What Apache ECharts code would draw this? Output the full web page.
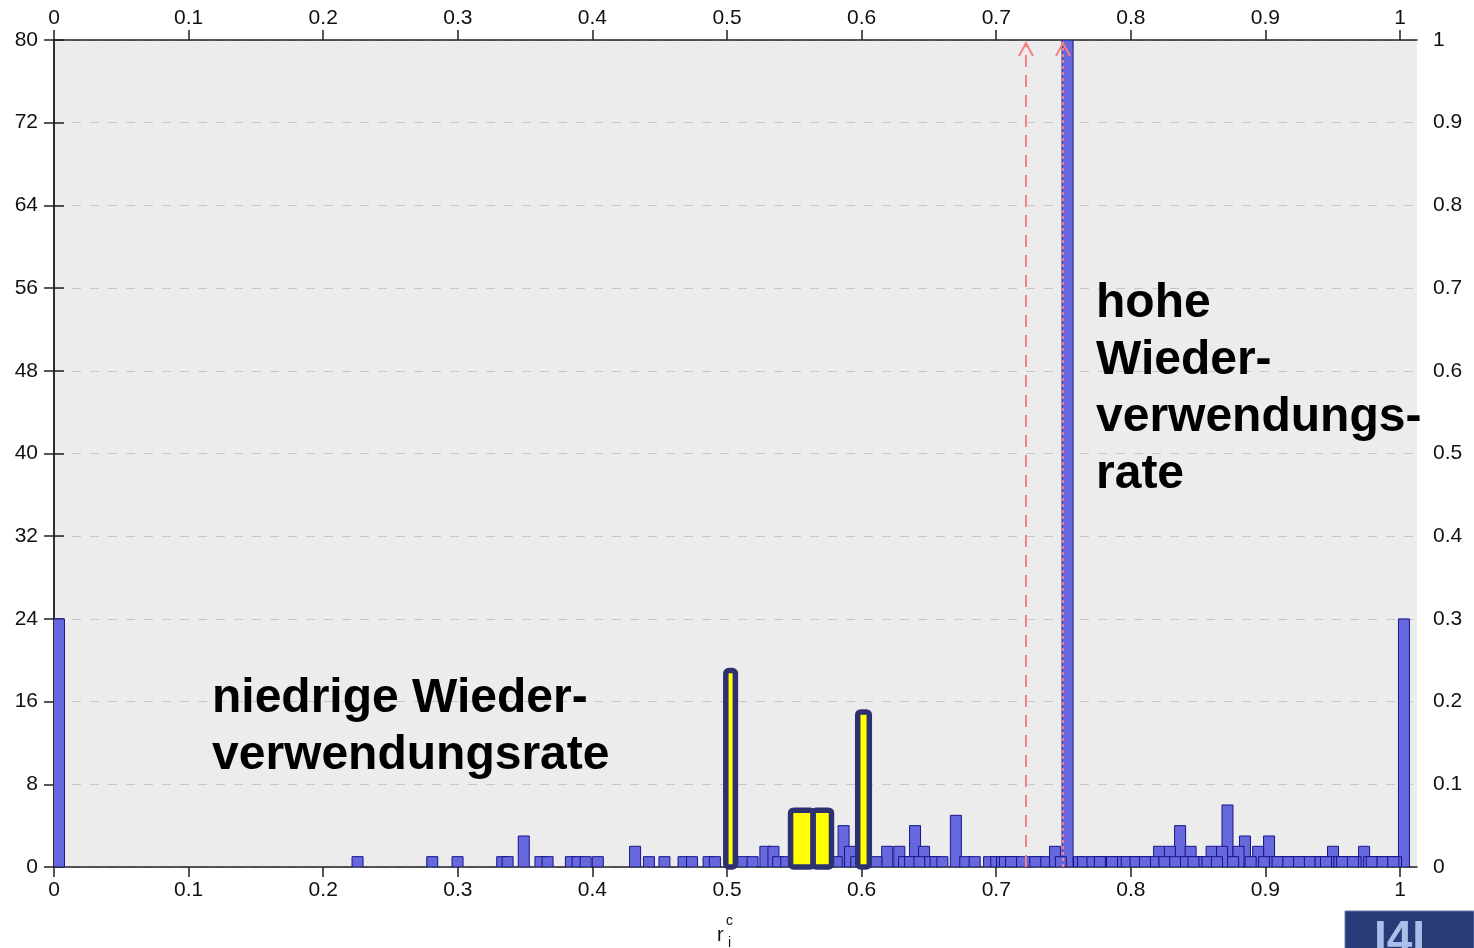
<!DOCTYPE html>
<html>
<head>
<meta charset="utf-8">
<script src="https://cdn.jsdelivr.net/npm/echarts@6/dist/echarts.min.js"></script>
<style>
  html, body { margin: 0; padding: 0; background: #fff; }
  #reuse-chart { width: 1474px; height: 948px; }
</style>
</head>
<body>
<div id="reuse-chart"></div>
<script>
// histogram bins (centre of bin, number of classes)
var barX = [
  0.0037, 0.2255, 0.281, 0.2998, 0.333, 0.337, 0.349, 0.3614, 0.3667, 0.384,
  0.389, 0.395, 0.404, 0.4317, 0.442, 0.4535, 0.4677, 0.474, 0.4863, 0.491,
  0.512, 0.519, 0.5285, 0.5345, 0.538, 0.544, 0.55, 0.556, 0.563, 0.57,
  0.576, 0.5815, 0.5866, 0.5914, 0.596, 0.611, 0.619, 0.628, 0.6315, 0.636,
  0.6397, 0.643, 0.6464, 0.651, 0.655, 0.66, 0.670, 0.677, 0.684, 0.6947,
  0.700, 0.7043, 0.7088, 0.7132, 0.7177, 0.7266, 0.731, 0.7355, 0.7437, 0.748,
  0.753, 0.7615, 0.7645, 0.7749, 0.7793, 0.7838, 0.7883, 0.7927, 0.8009, 0.8053,
  0.809, 0.8128, 0.817, 0.821, 0.825, 0.829, 0.833, 0.8366, 0.841, 0.8444,
  0.849, 0.853, 0.857, 0.86, 0.864, 0.8678, 0.8718, 0.876, 0.880, 0.8848,
  0.889, 0.8946, 0.899, 0.9027, 0.907, 0.911, 0.915, 0.919, 0.923, 0.927,
  0.931, 0.935, 0.939, 0.943, 0.947, 0.9502, 0.955, 0.959, 0.963, 0.967,
  0.9733, 0.977, 0.981, 0.985, 0.989, 0.993, 0.997, 1.0029,
  0.7065, 0.711, 0.729, 0.7715, 0.777, 0.786, 0.797, 0.8035, 0.8105, 0.8465,
  0.909, 0.917, 0.925, 0.933, 0.941, 0.945, 0.957, 0.965, 0.979, 0.987, 0.995
]
var barCount = [
  24, 1, 1, 1, 1, 1, 3, 1, 1, 1,
  1, 1, 1, 2, 1, 1, 1, 1, 1, 1,
  1, 1, 2, 2, 1, 1, 1, 1, 1, 1,
  1, 1, 4, 2, 1, 1, 2, 2, 1, 1,
  4, 1, 2, 1, 1, 1, 5, 1, 1, 1,
  1, 1, 1, 1, 1, 1, 1, 1, 2, 1,
  80, 1, 1, 1, 1, 1, 1, 1, 1, 1,
  1, 1, 1, 2, 1, 2, 1, 4, 1, 2,
  1, 1, 1, 2, 1, 2, 6, 1, 2, 3,
  1, 2, 1, 3, 1, 1, 1, 1, 1, 1,
  1, 1, 1, 1, 1, 2, 1, 1, 1, 1,
  2, 1, 1, 1, 1, 1, 1, 24,
  1, 1, 1, 1, 1, 1, 1, 1, 1, 1,
  1, 1, 1, 1, 1, 1, 1, 1, 1, 1, 1
]

// highlighted bins (yellow): left edge, right edge, count
var hlStart = [0.4991, 0.5472, 0.5640, 0.5971]
var hlEnd = [0.5062, 0.5640, 0.5776, 0.6057]
var hlCount = [19, 5.5, 5.5, 15]

// vertical threshold markers
var markerX = [0.7221, 0.7496]

var xTicks = [0, 0.1, 0.2, 0.3, 0.4, 0.5, 0.6, 0.7, 0.8, 0.9, 1]
var xMax = 1.0126

var textFont = 'Liberation Sans, Arial, sans-serif'

var myChart = echarts.init(document.getElementById('reuse-chart'))

var barData = barX.map(function (x, i) {
  return [x, barCount[i]]
})
// taller bins first so the single ones sit on top, like the original plot
barData.sort(function (a, b) { return b[1] - a[1] })
var hlData = hlStart.map(function (x, i) {
  return [x, hlEnd[i], hlCount[i]]
})
var markerData = markerX.map(function (x) {
  return [x]
})

function xAxisDef (pos) {
  return {
    type: 'value',
    position: pos,
    min: 0,
    max: xMax,
    axisLine: { show: true, onZero: false, lineStyle: { color: '#222', width: 1.5 } },
    axisTick: { show: true, customValues: xTicks, length: 10, lineStyle: { color: '#222', width: 1.5 } },
    axisLabel: {
      customValues: xTicks,
      margin: pos === 'top' ? 11 : 13,
      fontSize: 21,
      color: '#111',
      fontFamily: textFont
    },
    splitLine: { show: false }
  }
}

var option = {
  animation: false,
  backgroundColor: '#fff',
  grid: {
    left: 54,
    right: 57,
    top: 40,
    bottom: 81,
    show: true,
    backgroundColor: '#ececec',
    borderWidth: 0
  },
  xAxis: [xAxisDef('bottom'), xAxisDef('top')],
  yAxis: [
    {
      type: 'value',
      position: 'left',
      min: 0,
      max: 80,
      interval: 8,
      axisLine: { show: true, lineStyle: { color: '#222', width: 1.5 } },
      axisTick: { show: true, length: 10, lineStyle: { color: '#222', width: 1.5 } },
      axisLabel: { margin: 16, fontSize: 21, color: '#111', fontFamily: textFont },
      splitLine: { show: true, lineStyle: { color: '#c6c6c6', width: 1, type: [9, 9] } }
    },
    {
      type: 'value',
      position: 'right',
      min: 0,
      max: 1,
      interval: 0.1,
      axisLine: { show: true, lineStyle: { color: '#222', width: 1.5 } },
      axisTick: { show: true, length: 10, lineStyle: { color: '#222', width: 1.5 } },
      axisLabel: { margin: 16, fontSize: 21, color: '#111', fontFamily: textFont },
      splitLine: { show: false }
    }
  ],
  series: [
    {
      type: 'custom',
      xAxisIndex: 0,
      yAxisIndex: 0,
      clip: true,
      data: barData,
      renderItem: function (params, api) {
        var base = api.coord([api.value(0), 0])
        var top = api.coord([api.value(0), api.value(1)])
        var w = 11
        return {
          type: 'rect',
          shape: { x: base[0] - w / 2, y: top[1], width: w, height: base[1] - top[1] },
          style: { fill: '#6868de', stroke: '#16168a', lineWidth: 1 }
        }
      }
    },
    {
      type: 'custom',
      xAxisIndex: 0,
      yAxisIndex: 0,
      data: hlData,
      z: 3,
      renderItem: function (params, api) {
        var a = api.coord([api.value(0), 0])
        var b = api.coord([api.value(1), api.value(2)])
        return {
          type: 'rect',
          shape: { x: a[0], y: b[1], width: b[0] - a[0], height: a[1] - b[1], r: 3 },
          style: { fill: '#ffff00', stroke: '#2d3170', lineWidth: 5.5, lineJoin: 'round' }
        }
      }
    },
    {
      type: 'custom',
      xAxisIndex: 0,
      yAxisIndex: 0,
      data: markerData,
      z: 4,
      renderItem: function (params, api) {
        var p0 = api.coord([api.value(0), 0])
        var p1 = api.coord([api.value(0), 80])
        var dash = params.dataIndex === 0 ? [12, 8] : [3, 3]
        var color = '#f58282'
        return {
          type: 'group',
          children: [
            {
              type: 'line',
              shape: { x1: p0[0], y1: p0[1], x2: p1[0], y2: p1[1] + 2 },
              style: { stroke: color, lineWidth: 2, lineDash: dash }
            },
            {
              type: 'polyline',
              shape: { points: [[p1[0] - 7, p1[1] + 16], [p1[0], p1[1] + 3], [p1[0] + 7, p1[1] + 16]] },
              style: { stroke: color, lineWidth: 2, fill: null }
            }
          ]
        }
      }
    }
  ],
  graphic: [
    {
      type: 'text',
      left: 212,
      top: 670,
      z: 10,
      style: {
        text: 'niedrige Wieder-\nverwendungsrate',
        font: 'bold 48px ' + textFont,
        fill: '#000',
        lineHeight: 57
      }
    },
    {
      type: 'text',
      left: 1096,
      top: 275,
      z: 10,
      style: {
        text: 'hohe\nWieder-\nverwendungs-\nrate',
        font: 'bold 48px ' + textFont,
        fill: '#000',
        lineHeight: 57
      }
    },
    {
      type: 'text',
      left: 717,
      top: 925,
      style: { text: 'r', font: '20px ' + textFont, fill: '#111' }
    },
    {
      type: 'text',
      left: 726,
      top: 914,
      style: { text: 'c', font: '14px ' + textFont, fill: '#111' }
    },
    {
      type: 'text',
      left: 728,
      top: 936,
      style: { text: 'i', font: '14px ' + textFont, fill: '#111' }
    },
    {
      type: 'rect',
      shape: { x: 1345, y: 911, width: 129, height: 40 },
      style: { fill: '#283a78', stroke: '#6b7aa8', lineWidth: 1 }
    },
    {
      type: 'text',
      left: 1374,
      top: 917,
      style: { text: 'I4I', font: 'bold 46px ' + textFont, fill: '#a8c0e8' }
    }
  ]
}

myChart.setOption(option, true)
</script>
</body>
</html>
